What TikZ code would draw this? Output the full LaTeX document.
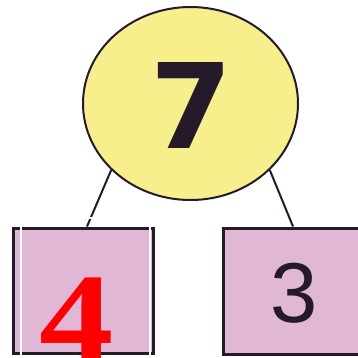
\documentclass[tikz,border=0pt]{standalone}
\usepackage{fontspec}
\setmainfont{Liberation Serif}
\newfontfamily\sevenfont{DejaVu Sans}
\newfontfamily\threefont{Liberation Sans}
\newfontfamily\fourfont{Liberation Serif}
\usetikzlibrary{shapes.geometric}
\definecolor{inkline}{HTML}{241A2A}
\definecolor{sunfill}{HTML}{F7EF8C}
\definecolor{boxfill}{HTML}{E0B8D6}
\definecolor{redfour}{HTML}{FF0000}
\tikzset{
  bubble/.style={ellipse, draw=inkline, fill=sunfill, line width=2pt,
    minimum width=215pt, minimum height=193pt, inner sep=0pt},
  numbox/.style={rectangle, draw=inkline, fill=boxfill, line width=3pt, inner sep=0pt},
  link/.style={draw=inkline, line width=2pt},
  digit/.style={inner sep=0pt, anchor=base},
}
\begin{document}
\begin{tikzpicture}[x=1pt,y=-1pt]
\useasboundingbox (0,0) rectangle (358,357);
\clip (0,0) rectangle (358,357);
\fill[white] (0,0) rectangle (358,357);
\node[bubble] (c) at (190.5,103.5) {};
\node[numbox, minimum width=140pt, minimum height=125pt] (lb) at (83,290.5) {};
\node[numbox, minimum width=145pt, minimum height=126pt] (rb) at (295.5,291) {};
\draw[link] (c.220) -- ([xshift=4pt]lb.north);
\draw[link] (c.320) -- ([xshift=-2.5pt]rb.north);
\draw[white, line width=2pt] (21,362) -- (21,218) -- (150,218) -- (150,362);
\node[digit, font=\sevenfont\bfseries\fontsize{118}{118}\selectfont, text=inkline] (seven) at (191.5,148) {7};
\node[digit, font=\threefont\fontsize{85}{85}\selectfont, text=inkline] (three) at (294.5,322) {3};
\node[digit, font=\fourfont\bfseries\fontsize{124}{124}\selectfont, text=redfour, xscale=1.2] (four) at (77,359) {4};
\end{tikzpicture}
\end{document}
